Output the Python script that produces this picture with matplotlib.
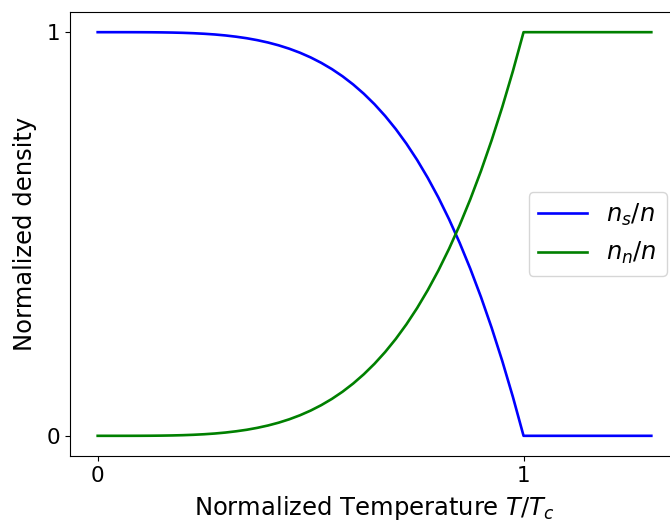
import matplotlib
matplotlib.use("Agg")
import matplotlib.pyplot as plt

# reduced temperature T/Tc
t = [0.0, 0.025, 0.05, 0.075, 0.1, 0.125, 0.15, 0.175, 0.2, 0.225,
     0.25, 0.275, 0.3, 0.325, 0.35, 0.375, 0.4, 0.425, 0.45, 0.475,
     0.5, 0.525, 0.55, 0.575, 0.6, 0.625, 0.65, 0.675, 0.7, 0.725,
     0.75, 0.775, 0.8, 0.825, 0.85, 0.875, 0.9, 0.925, 0.95, 0.975,
     1.0, 1.1, 1.2, 1.3]

# normal-fluid fraction n_n/n
n_normal = [0.0, 0.0, 0.0, 0.00003, 0.0001, 0.00024, 0.00051, 0.00094, 0.0016, 0.00256,
            0.0039, 0.0057, 0.0081, 0.0112, 0.0150, 0.0198, 0.0256, 0.0326, 0.0410, 0.0509,
            0.0625, 0.0760, 0.0915, 0.1093, 0.1296, 0.1526, 0.1785, 0.2076, 0.2401, 0.2763,
            0.3164, 0.3608, 0.4096, 0.4633, 0.5220, 0.5862, 0.6561, 0.7321, 0.8145, 0.9037,
            1.0, 1.0, 1.0, 1.0]

# superfluid fraction n_s/n
n_super = [1.0, 1.0, 1.0, 0.99997, 0.9999, 0.99976, 0.99949, 0.99906, 0.9984, 0.99744,
           0.9961, 0.9943, 0.9919, 0.9888, 0.9850, 0.9802, 0.9744, 0.9674, 0.9590, 0.9491,
           0.9375, 0.9240, 0.9085, 0.8907, 0.8704, 0.8474, 0.8215, 0.7924, 0.7599, 0.7237,
           0.6836, 0.6392, 0.5904, 0.5367, 0.4780, 0.4138, 0.3439, 0.2679, 0.1855, 0.0963,
           0.0, 0.0, 0.0, 0.0]

fig = plt.figure(figsize=(6.7, 5.23), dpi=100)
ax = fig.add_axes([70 / 670, 67 / 523, 609 / 670, 444 / 523])

ax.plot(t, n_super, color="b", linewidth=1.9, label=r"$n_s/n$")
ax.plot(t, n_normal, color="g", linewidth=1.9, label=r"$n_n/n$")

ax.set_xticks([0, 1])
ax.set_yticks([0, 1])
ax.tick_params(labelsize=15.5)
ax.set_xlabel(r"Normalized Temperature $T/T_c$", fontsize=17.5, labelpad=6)
ax.set_ylabel("Normalized density", fontsize=17.5, labelpad=7)
ax.legend(loc="center right", fontsize=17.5)

fig.savefig("out.png", dpi=100)
